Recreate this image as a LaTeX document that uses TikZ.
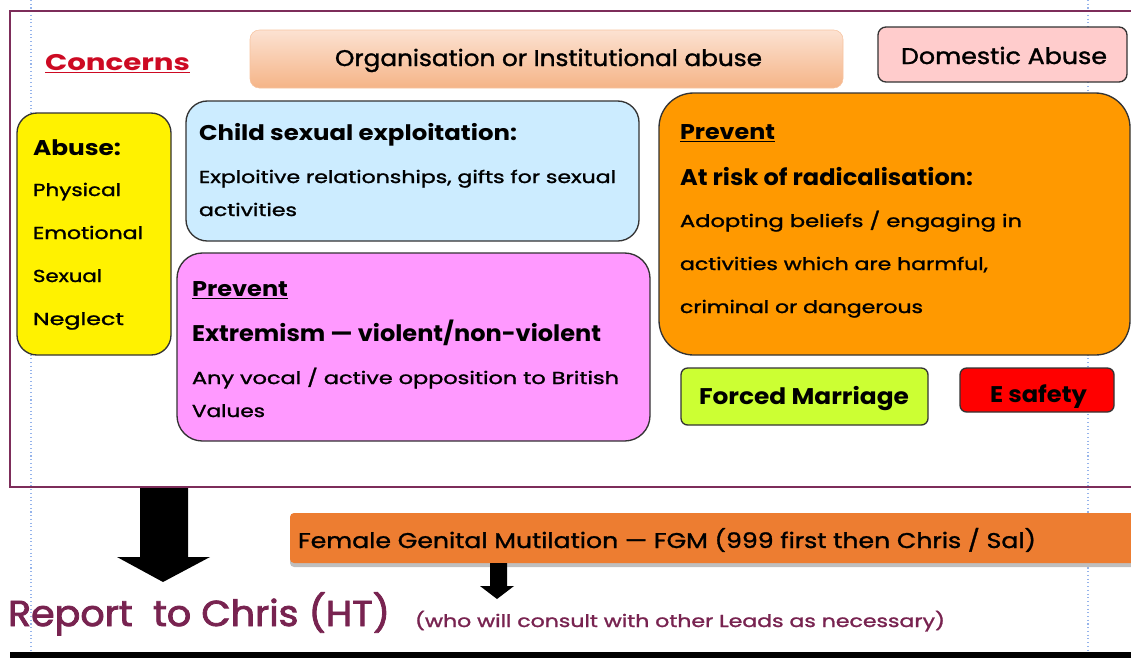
\documentclass[tikz,border=0pt]{standalone}
\usepackage{fontspec}
\usepackage{graphicx}
\setmainfont{Poppins}
\newfontfamily\med{Poppins}[FakeBold=1.3,Ligatures=TeX]
\newfontfamily\medh{Poppins}[FakeBold=2.2,Ligatures=TeX]
\usetikzlibrary{fit,shadows}
\newdimen\pxu \pxu=0.75pt
\newcommand\fitw[2]{\resizebox{#1\pxu}{\height}{#2}}
\definecolor{frame}{RGB}{125,45,90}
\definecolor{concred}{RGB}{205,10,35}
\definecolor{guide}{RGB}{150,180,235}
\definecolor{orgtop}{RGB}{252,226,210}
\definecolor{orgbot}{RGB}{245,180,135}
\definecolor{dompink}{RGB}{255,204,204}
\definecolor{cseblue}{RGB}{204,236,255}
\definecolor{pinkbox}{RGB}{255,153,255}
\definecolor{orangebox}{RGB}{255,153,0}
\definecolor{limebox}{RGB}{204,255,51}
\definecolor{fgmorange}{RGB}{237,125,49}
\definecolor{report}{RGB}{120,35,80}
\tikzset{
  box/.style={draw=black!80, line width=1pt, inner sep=0pt},
  t/.style={anchor=base west, inner sep=0pt, outer sep=0pt},
}
\begin{document}
\begin{tikzpicture}[x=0.75pt,y=-0.75pt]
\useasboundingbox (0,0) rectangle (1131,658);
\clip (0,0) rectangle (1131,658);
% guide lines
\draw[guide, dotted, line width=0.8pt] (31,0) -- (31,658);
\draw[guide, dotted, line width=0.8pt] (1088,0) -- (1088,658);
% outer frame
\draw[frame, line width=2.2pt] (10,11) rectangle (1150,487);
% Concerns
\node[t, text=concred] (conc) at (45,70) {\fitw{145}{\fontsize{17}{20}\selectfont\bfseries\underline{Concerns}}};
% Org box
\node[fit={(250,30) (843,88)}, inner sep=0pt, rounded corners=7pt, top color=orgtop, bottom color=orgbot, draw=orgbot!80] (org) {};
\node[t] (orgt) at (335,66) {\fitw{427}{\fontsize{17}{20}\med Organisation or Institutional abuse}};
% Domestic
\node[fit={(878,27) (1127,82)}, box, rounded corners=6pt, fill=dompink] (dom) {};
\node[t] (domt) at (901,64) {\fitw{206}{\fontsize{17}{20}\med Domestic Abuse}};
% Abuse yellow
\node[fit={(17,113) (171,355)}, box, rounded corners=15pt, fill=yellow] (abuse) {};
\node[t] (ab0) at (33,155) {\fitw{88}{\fontsize{16}{19}\selectfont\bfseries Abuse:}};
\node[t] (ab1) at (33,196) {\fitw{88}{\fontsize{13}{16}\med Physical}};
\node[t] (ab2) at (33,239) {\fitw{110}{\fontsize{13}{16}\med Emotional}};
\node[t] (ab3) at (33,282) {\fitw{69}{\fontsize{13}{16}\med Sexual}};
\node[t] (ab4) at (33,325) {\fitw{91}{\fontsize{13}{16}\med Neglect}};
% CSE
\node[fit={(186,101) (639,241)}, box, rounded corners=16pt, fill=cseblue] (cse) {};
\node[t] (cse0) at (199,140) {\fitw{318}{\fontsize{16}{19}\selectfont\bfseries Child sexual exploitation:}};
\node[t] (cse1) at (199,183) {\fitw{417}{\fontsize{13}{16}\med Exploitive relationships, gifts for sexual}};
\node[t] (cse2) at (199,216) {\fitw{98}{\fontsize{13}{16}\med activities}};
% Pink
\node[fit={(177,253) (650,441)}, box, rounded corners=19pt, fill=pinkbox] (pink) {};
\node[t] (pk0) at (192,296) {\fitw{96}{\fontsize{16}{19}\selectfont\bfseries\underline{Prevent}}};
\node[t] (pk1) at (192,341) {\fitw{409}{\fontsize{17}{20}\selectfont\bfseries Extremism — violent/non-violent}};
\node[t] (pk2) at (192,384) {\fitw{427}{\fontsize{13}{16}\med Any vocal / active opposition to British}};
\node[t] (pk3) at (192,417) {\fitw{73}{\fontsize{13}{16}\med Values}};
% Orange
\node[fit={(659,93) (1130,355)}, box, rounded corners=26pt, fill=orangebox] (orng) {};
\node[t] (or0) at (680,139) {\fitw{95}{\fontsize{16}{19}\selectfont\bfseries\underline{Prevent}}};
\node[t] (or1) at (680,185) {\fitw{293}{\fontsize{17}{20}\selectfont\bfseries At risk of radicalisation:}};
\node[t] (or2) at (680,227) {\fitw{342}{\fontsize{13}{16}\med Adopting beliefs / engaging in}};
\node[t] (or3) at (680,270) {\fitw{308}{\fontsize{13}{16}\med activities which are harmful,}};
\node[t] (or4) at (680,313) {\fitw{243}{\fontsize{13}{16}\med criminal or dangerous}};
% Forced marriage, E safety
\node[fit={(681,368) (928,425)}, box, rounded corners=5pt, fill=limebox] (fm) {};
\node[t] (fmt) at (699,404) {\fitw{210}{\fontsize{17}{20}\selectfont\bfseries Forced Marriage}};
\node[fit={(960,368) (1114,412)}, box, rounded corners=5pt, fill=red] (es) {};
\node[t] (est) at (990,402) {\fitw{97}{\fontsize{17}{20}\selectfont\bfseries E safety}};
% big arrow
\fill[black] (140,488) -- (188,488) -- (188,557) -- (210,557) -- (163,582) -- (117,557) -- (140,557) -- cycle;
% FGM
\node[fit={(290,513) (1160,563)}, inner sep=0pt, rounded corners=3pt, fill=fgmorange, drop shadow={shadow xshift=0pt, shadow yshift=-3pt, fill=black!25, opacity=1}] (fgm) {};
\node[t] (fgmt) at (298,548) {\fitw{738}{\fontsize{16}{19}\med Female Genital Mutilation — FGM (999 first then Chris / Sal)}};
% small arrow
\fill[black] (490,563) -- (507,563) -- (507,586) -- (514,586) -- (497,599) -- (480,586) -- (490,586) -- cycle;
% report
\node[t, text=report] (rep) at (8,626) {\fitw{382}{\fontsize{27}{30}\medh Report\ \ to Chris (HT)}};
\node[t, text=report] (who) at (415,627) {\fitw{530}{\fontsize{13}{16}\med (who will consult with other Leads as necessary)}};
% bottom line
\draw[black, line width=4pt] (10,655) -- (1140,655);
\end{tikzpicture}
\end{document}
